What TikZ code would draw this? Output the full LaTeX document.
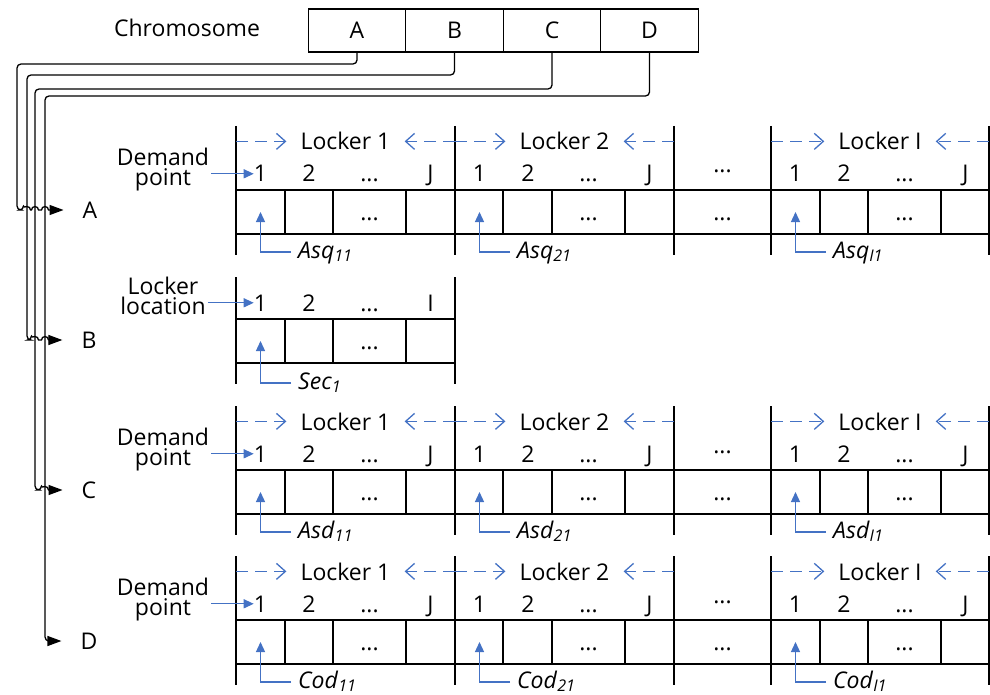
\documentclass[tikz,border=0pt]{standalone}
\usepackage{fontspec}
\setmainfont{Open Sans}
\usetikzlibrary{arrows.meta}
\definecolor{ptblue}{RGB}{68,114,196}

\tikzset{
  every node/.style={inner sep=0pt, font=\fontsize{23}{20}\selectfont},
  sepline/.style={line width=1.3pt},
  cellline/.style={line width=1.3pt},
  conn/.style={line width=1.3pt, rounded corners=4pt, -{Triangle[length=14pt,width=10pt]}},
  ptarrow/.style={draw=ptblue, line width=1.3pt, -{Triangle[length=10pt,width=9pt]}},
  dasharrow/.style={draw=ptblue, line width=1.3pt, dash pattern=on 12pt off 7pt, -{Straight Barb[length=9pt,width=16pt]}},
  chbox/.style={draw, line width=1.3pt, minimum width=97.5pt, minimum height=43pt},
  lockertxt/.style={anchor=base, inner xsep=14pt},
  numtxt/.style={anchor=base},
  captxt/.style={align=center},
  labtxt/.style={anchor=base west, inner xsep=7pt},
  letter/.style={inner xsep=19pt},
}

% One strip of I lockers with J demand points each; #1 name prefix,
% #2 top edge of the cell strip, #3 variable name
\newcommand\lockerrow[3]{%
  \foreach \sxa in {236,455,674,771,989}
    \draw[sepline] (\sxa,#2-64) -- (\sxa,#2+65);
  \draw[cellline] (236,#2) -- (989,#2) (236,#2+44) -- (989,#2+44);
  \foreach \cxa in {285,333,406,503,552,625,820,868,941}
    \draw[cellline] (\cxa,#2) -- (\cxa,#2+44);
  \foreach \lx/\rx/\kk/\lname/\subi in {236/455/1/1/11,455/674/2/2/21,771/989/3/I/I1}{
    \node[lockertxt] (#1lk\kk) at ({(\lx+\rx)/2},#2-40) {Locker \lname};
    \coordinate (#1dl\kk) at (\lx,0 |- #1lk\kk.west);
    \coordinate (#1dr\kk) at (\rx,0 |- #1lk\kk.east);
    \draw[dasharrow] (#1dl\kk) -- (#1lk\kk.west);
    \draw[dasharrow] (#1dr\kk) -- (#1lk\kk.east);
    \node[numtxt] (#1n\kk-1) at (\lx+24.5,#2-8) {1};
    \node[numtxt] (#1n\kk-2) at (\lx+73,#2-8) {2};
    \node[numtxt] (#1n\kk-3) at (\lx+133.5,#2-8) {...};
    \node[numtxt] (#1n\kk-4) at (\lx+194.5,#2-8) {J};
    \node[numtxt] (#1d\kk) at (\lx+133.5,#2+30) {...};
    \coordinate (#1c\kk) at (\lx+24.5,#2+22);
    \node[labtxt] (#1v\kk) at (\lx+55,#2+68) {\textit{#3}\textsubscript{\textit{\subi}}};
    \draw[ptarrow] ([yshift=6pt]#1v\kk.base west) -| (#1c\kk);
  }
  \node[numtxt] (#1gn) at (722.5,#2-17) {...};
  \node[numtxt] (#1gd) at (722.5,#2+30) {...};
  \node[captxt] (#1dp) at (163,#2-20) {Demand\\point};
  \draw[ptarrow, shorten <=2pt] (#1dp.east |- #1n1-1.west) -- (#1n1-1.west);
}

\begin{document}
\begin{tikzpicture}[x=1pt,y=-1pt]
\useasboundingbox (0,0) rectangle (990,695);

% chromosome
\node (chrom) at (187,28) {Chromosome};
\node[chbox] (chA) at (357,30.5) {A};
\node[chbox] (chB) at (454.5,30.5) {B};
\node[chbox] (chC) at (552,30.5) {C};
\node[chbox] (chD) at (649.5,30.5) {D};

% segment labels
\node[letter] (lblA) at (90,210) {A};
\node[letter] (lblB) at (89,340) {B};
\node[letter] (lblC) at (89,490) {C};
\node[letter] (lblD) at (89,641) {D};

% gene-to-segment connectors, hopping over the lines they cross
\draw[conn] (chA.south) |- (17,64) -- (17,0 |- lblA.west) -- ++(6.5,0)
  [sharp corners] arc[start angle=180,end angle=360,radius=3.5] -- ++(1,0)
  arc[start angle=180,end angle=360,radius=3.5] -- ++(3,0)
  arc[start angle=180,end angle=360,radius=3.5] -- (lblA.west);
\draw[conn] (chB.south) |- (27,75) -- (27,0 |- lblB.west) -- ++(4.5,0)
  [sharp corners] arc[start angle=180,end angle=360,radius=3.5] -- ++(3,0)
  arc[start angle=180,end angle=360,radius=3.5] -- (lblB.west);
\draw[conn] (chC.south) |- (35,89) -- (35,0 |- lblC.west) -- ++(6.5,0)
  [sharp corners] arc[start angle=180,end angle=360,radius=3.5] -- (lblC.west);
\draw[conn] (chD.south) |- (45,96) |- (lblD.west);

% segment A
\lockerrow{a}{190}{Asq}

% segment B: locker selection
\draw[sepline] (236,277) -- (236,384) (455,277) -- (455,384);
\draw[cellline] (236,319) -- (455,319) (236,363) -- (455,363);
\foreach \cxa in {285,333,406}
  \draw[cellline] (\cxa,319) -- (\cxa,363);
\node[numtxt] (bn1) at (260.5,311) {1};
\node[numtxt] (bn2) at (309,311) {2};
\node[numtxt] (bn3) at (369.5,311) {...};
\node[numtxt] (bn4) at (430.5,311) {I};
\node[numtxt] (bd) at (369.5,349) {...};
\coordinate (bc) at (260.5,341);
\node[labtxt] (bv) at (291,389) {\textit{Sec}\textsubscript{\textit{1}}};
\draw[ptarrow] ([yshift=6pt]bv.base west) -| (bc);
\node[captxt] (bdp) at (163,296) {Locker\\location};
\draw[ptarrow, shorten <=2pt] (bdp.east |- bn1.west) -- (bn1.west);

% segments C and D
\lockerrow{c}{470}{Asd}
\lockerrow{d}{620}{Cod}
\end{tikzpicture}
\end{document}
